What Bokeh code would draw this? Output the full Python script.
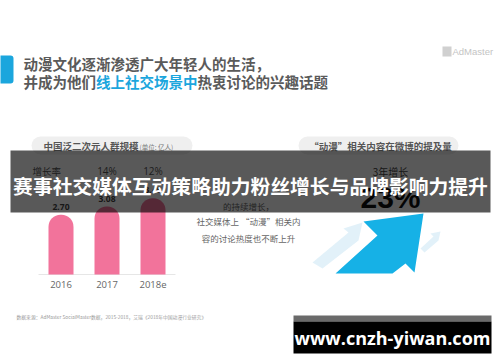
from bokeh.plotting import figure
from bokeh.models import Range1d
from bokeh.core.properties import value
from bokeh.embed import file_html
from bokeh.resources import INLINE

# ---- data ----
years = ["2016", "2017", "2018e"]
population = [2.70, 3.08, 3.45]          # 亿人
pop_labels = ["2.70", "3.08", "3.45"]
growth_labels = ["", "14%", "12%"]
weibo_growth = "23%"

CJK = value("Noto Sans CJK SC")
W, H = 500, 362

p = figure(width=W, height=H, output_backend="svg", toolbar_location=None,
           x_range=Range1d(0, W), y_range=Range1d(H, 0),
           x_axis_location=None, y_axis_location=None, min_border=0)
p.outline_line_color = None
p.grid.visible = False
p.background_fill_color = "white"
p.border_fill_color = "white"

# bar scales: category index -> screen, value -> screen
px_per_cat = 46.0
x0_px = 60.5
p.extra_x_ranges = {"bars": Range1d(-x0_px / px_per_cat, (W - x0_px) / px_per_cat)}
px_per_unit = 22.1
base_px = H - 274
p.extra_y_ranges = {"bars": Range1d(-base_px / px_per_unit, (H - base_px) / px_per_unit)}
idx = list(range(len(years)))

# ---- header ----
p.quad(left=[-5], right=[13], top=[55], bottom=[83], fill_color="#1ba6dd",
       line_color=None, border_radius=3)
fs = 14.5
p.text(x=[23], y=[63], text=["动漫文化逐渐渗透广大年轻人的生活，"], text_font=CJK,
       text_font_size=f"{fs}px", text_font_style="bold", text_color="#5a5a5a",
       text_baseline="middle")
seg = [("并成为他们", "#5a5a5a"), ("线上社交场景中", "#1ba6dd"), ("热衷讨论的兴趣话题", "#5a5a5a")]
xx = 23
for s, c in seg:
    p.text(x=[xx], y=[81], text=[s], text_font=CJK, text_font_size=f"{fs}px",
           text_font_style="bold", text_color=c, text_baseline="middle")
    xx += len(s) * fs

# AdMaster logo
p.quad(left=[442], right=[451], top=[46], bottom=[56], fill_color="#d0d0d0", line_color=None)
p.text(x=[452], y=[51], text=["AdMaster"], text_font=value("Liberation Sans"),
       text_font_size="9.5px", text_color="#c4c4c4", text_baseline="middle")

# ---- left panel ----
p.quad(left=[31], right=[192], top=[136], bottom=[154], fill_color="#efefef",
       line_color=None, border_radius=9)
p.text(x=[43], y=[145.5], text=["中国泛二次元人群规模"], text_font=CJK, text_font_size="9.5px",
       text_font_style="bold", text_color="#555555", text_baseline="middle")
p.text(x=[139], y=[146], text=["(单位: 亿人)"], text_font=CJK, text_font_size="6.5px",
       text_color="#777777", text_baseline="middle")

p.text(x=[32], y=[170], text=["增长率"], text_font=CJK, text_font_size="9.5px",
       text_color="#555555", text_baseline="middle")
p.text(x=idx, y=[170] * 3, text=growth_labels, x_range_name="bars",
       text_font=value("Open Sans"), text_font_size="10px", text_color="#555555",
       text_align="center", text_baseline="middle")

p.segment(x0=[38], y0=[274], x1=[175], y1=[274], line_color="#e6e6e6", line_width=1)
p.vbar(x=idx, top=population, bottom=0, width=25 / px_per_cat, x_range_name="bars",
       y_range_name="bars", fill_color="#f2739b", line_color=None,
       border_radius=(12, 12, 0, 0))
p.text(x=idx, y=[v + 0.22 for v in population], text=pop_labels, x_range_name="bars",
       y_range_name="bars", text_font=value("Open Sans"), text_font_size="8.5px",
       text_font_style="bold", text_color="#444444", text_align="center",
       text_baseline="bottom")
p.text(x=idx, y=[284] * 3, text=years, x_range_name="bars",
       text_font=value("Open Sans"), text_font_size="9.5px", text_color="#666666",
       text_align="center", text_baseline="middle")

# ---- middle text ----
mid = ["的持续增长，", "社交媒体上 “动漫”相关内", "容的讨论热度也不断上升"]
p.text(x=[248] * 3, y=[205, 220, 237], text=mid, text_font=CJK,
       text_font_size="8.5px", text_color="#666666", text_align="center",
       text_baseline="middle")

# ---- right panel ----
p.quad(left=[298], right=[458], top=[136], bottom=[154], fill_color="#efefef",
       line_color=None, border_radius=9)
p.text(x=[380], y=[145.5], text=["“动漫”相关内容在微博的提及量"], text_font=CJK,
       text_font_size="9.5px", text_font_style="bold", text_color="#555555",
       text_align="center", text_baseline="middle")
p.text(x=[390], y=[171], text=["3年增长"], text_font=CJK, text_font_size="10px",
       text_color="#444444", text_align="center", text_baseline="middle")
p.text(x=[390], y=[197], text=[weibo_growth], text_font=value("Liberation Sans"),
       text_font_size="30px", text_font_style="bold", text_color="#111111",
       text_align="center", text_baseline="middle")

# faint arrows
p.patch(x=[312, 348, 343, 362, 358, 322], y=[262, 232, 228, 222, 240, 268],
        fill_color="#dbeef8", fill_alpha=0.8, line_color=None)
p.patch(x=[420, 433, 430, 440, 438, 424], y=[248, 236, 233, 231, 240, 252],
        fill_color="#dbeef8", fill_alpha=0.8, line_color=None)
# main arrow
p.patch(x=[335, 377, 363, 423, 414, 405, 392], y=[273, 235, 221, 213, 272, 263, 273],
        fill_color="#16b1e6", line_color=None)

# ---- footer ----
p.text(x=[16], y=[316], text=["数据来源：AdMaster SocialMaster数据，2015-2018，艾瑞《2018年中国动漫行业研究》"],
       text_font=CJK, text_font_size="4.8px", text_color="#9a9a9a", text_baseline="middle")

# ---- overlay band ----
p.quad(left=[10], right=[490], top=[150], bottom=[212], fill_color="black",
       fill_alpha=0.65, line_color=None)
p.text(x=[250], y=[185], text=["赛事社交媒体互动策略助力粉丝增长与品牌影响力提升"],
       text_font=CJK, text_font_size="19.8px", text_font_style="bold", text_color="white",
       text_align="center", text_baseline="middle")

# ---- watermark ----
p.quad(left=[293], right=[491], top=[315], bottom=[321], fill_color="#6a6a6a", line_color=None)
p.quad(left=[293], right=[491], top=[321], bottom=[353], fill_color="black", line_color=None)
p.text(x=[392], y=[337], text=["www.cnzh-yiwan.com"], text_font=value("Open Sans"),
       text_font_size="18px", text_font_style="bold", text_color="white",
       text_align="center", text_baseline="middle")

open("out.html", "w").write(file_html(p, INLINE))
